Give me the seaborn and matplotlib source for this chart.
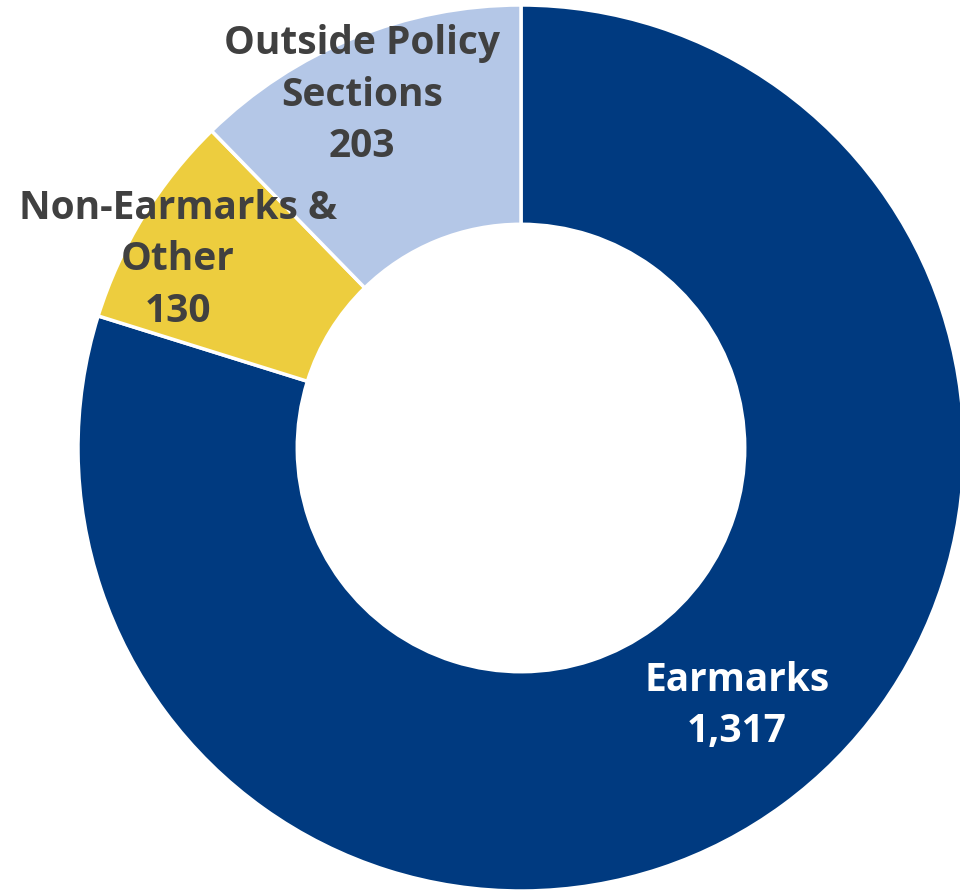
import matplotlib
matplotlib.use("Agg")
import matplotlib.pyplot as plt
import seaborn as sns

categories = ["Earmarks", "Non-Earmarks &\nOther", "Outside Policy\nSections"]
values = [1317, 130, 203]
value_labels = ["1,317", "130", "203"]
colors = ["#003A80", "#EDCD3E", "#B4C7E7"]
text_colors = ["white", "#404040", "#404040"]

sns.set_theme(style="white")
plt.rcParams['font.family'] = ['Open Sans', 'DejaVu Sans']

W, H = 960, 891
fig = plt.figure(figsize=(W / 100, H / 100), dpi=100)
cx, cy, R = 521, 448, 443
ax = fig.add_axes([(cx - R) / W, (H - cy - R) / H, 2 * R / W, 2 * R / H])

wedges, _ = ax.pie(values, colors=colors, startangle=90, counterclock=False,
                   radius=1.0, wedgeprops=dict(width=0.495, edgecolor="white", linewidth=2.5))
for w in wedges:
    w.set_clip_on(False)
ax.set_xlim(-1, 1)
ax.set_ylim(-1, 1)
ax.set_aspect("equal")
ax.axis("off")

label_px = [(737, 706), (178, 260), (362, 95)]
for cat, vl, tc, (px, py) in zip(categories, value_labels, text_colors, label_px):
    x = (px - cx) / R
    y = (cy - py) / R
    ax.text(x, y, f"{cat}\n{vl}", ha="center", va="center", color=tc,
            fontsize=28, fontweight="bold", linespacing=1.43)

fig.savefig("out.png", dpi=100)
